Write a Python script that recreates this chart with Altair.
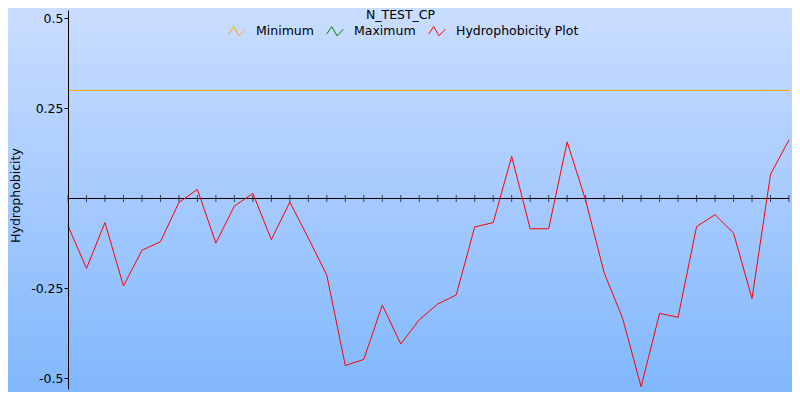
import altair as alt
import pandas as pd

# ---- data ----
positions = list(range(40))
hydrophobicity = [-0.076, -0.194, -0.067, -0.243, -0.144, -0.120, -0.011, 0.025, -0.124, -0.021,
                  0.014, -0.114, -0.010, -0.110, -0.213, -0.464, -0.447, -0.296, -0.404, -0.337,
                  -0.293, -0.268, -0.079, -0.067, 0.117, -0.084, -0.084, 0.157, -0.005, -0.206,
                  -0.333, -0.523, -0.319, -0.330, -0.078, -0.045, -0.096, -0.278, 0.067, 0.163]
minimum_value = 0.3
series_names = ["Minimum", "Maximum", "Hydrophobicity Plot"]
series_colors = ["#ffa500", "#008000", "#ff0000"]
y_tick_values = [-0.5, -0.25, 0.25, 0.5]
title_text = "N_TEST_CP"
y_title = "Hydrophobicity"

FONT = "DejaVu Sans"

df_h = pd.DataFrame({"pos": positions, "value": hydrophobicity, "series": series_names[2],
                     "zero": [0.0] * len(positions)})
df_min = pd.DataFrame({"pos": positions, "value": [minimum_value] * len(positions), "series": series_names[0],
                       "zero": [0.0] * len(positions)})
df_lines = pd.concat([df_min, df_h], ignore_index=True)
df_zero = pd.DataFrame({"start": [positions[0]], "end": [positions[-1]], "zero": [0.0]})

x_scale = alt.Scale(domain=[positions[0], positions[-1]], nice=False, zero=False, padding=0)
y_scale = alt.Scale(domain=[-0.52917, 0.52361], nice=False, zero=False, padding=0)

gradient = alt.Gradient(
    gradient="linear",
    stops=[alt.GradientStop(color="#c9ddff", offset=0),
           alt.GradientStop(color="#a6cafe", offset=0.5),
           alt.GradientStop(color="#80b8fc", offset=1)],
    x1=0, x2=0, y1=0, y2=1,
)

bg = alt.Chart(pd.DataFrame({"a": [0]})).mark_rect(color=gradient, clip=False).encode(
    x=alt.value(-60), x2=alt.value(724), y=alt.value(-2), y2=alt.value(382)
)

y_axis = alt.Axis(values=y_tick_values, labelExpr="'' + datum.value", grid=False, zindex=1,
                  domainColor="black", tickColor="black", tickSize=4, labelColor="black",
                  labelFont=FONT, labelFontSize=12.5, labelPadding=1,
                  title=y_title, titleFont=FONT, titleFontSize=12.5, titleFontWeight="normal",
                  titleColor="black", titleX=-53, titleY=185, titleAngle=270,
                  titleAlign="center", titleBaseline="middle")

lines = alt.Chart(df_lines).mark_line(strokeWidth=1, clip=False).encode(
    x=alt.X("pos:Q", scale=x_scale, axis=None),
    y=alt.Y("value:Q", scale=y_scale, axis=y_axis),
    color=alt.Color("series:N",
                    scale=alt.Scale(domain=series_names, range=series_colors),
                    legend=alt.Legend(title=None, orient="none", direction="horizontal",
                                      legendX=160, legendY=12, zindex=1,
                                      symbolType="M-1,0.35L-0.4,-0.55L0.25,0.55L1,-0.25",
                                      symbolSize=280, symbolStrokeWidth=1,
                                      labelFont=FONT, labelFontSize=12.5, labelColor="black",
                                      labelOffset=10, columnPadding=10)),
)

zero_rule = alt.Chart(df_zero).mark_rule(color="black", strokeWidth=1).encode(
    x=alt.X("start:Q", scale=x_scale, axis=None), x2="end:Q",
    y=alt.Y("zero:Q", scale=y_scale, axis=y_axis)
)

ticks = alt.Chart(df_h).mark_tick(orient="vertical", color="black", size=7, thickness=1).encode(
    x=alt.X("pos:Q", scale=x_scale, axis=None), y=alt.Y("zero:Q", scale=y_scale, axis=y_axis)
)

chart = alt.layer(bg, zero_rule, ticks, lines).properties(
    width=721, height=379,
    autosize=alt.AutoSizeParams(type="none"),
    padding={"left": 60, "top": 2, "right": 3, "bottom": 3},
    title=alt.Title(title_text, font=FONT, fontSize=12.5, fontWeight="normal", color="black",
                    anchor="middle", dx=-28, offset=0, dy=23, baseline="alphabetic", zindex=1),
).configure_view(stroke=None).configure(background="#a6cafe")

chart.save("out.html", embed_options={"renderer": "svg", "actions": False})
